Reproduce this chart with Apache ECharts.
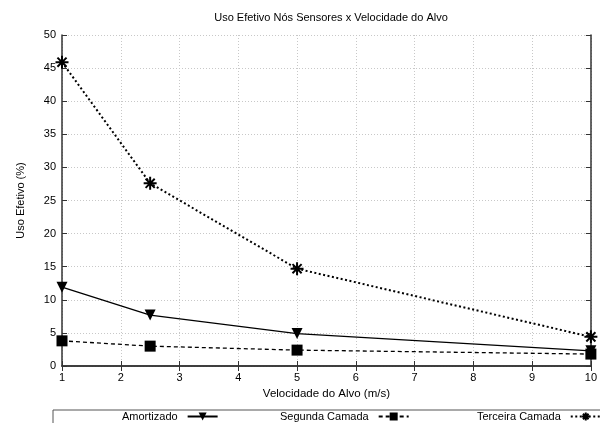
<!DOCTYPE html>
<html>
<head>
<meta charset="utf-8">
<script src="https://cdn.jsdelivr.net/npm/echarts@6/dist/echarts.min.js"></script>
<style>
  html, body { margin: 0; padding: 0; background: #fff; }
  #chart { width: 600px; height: 423px; }
</style>
</head>
<body>
<div id="chart"></div>
<script>
// Target speed (m/s) on the horizontal axis
const speeds = [1, 2.5, 5, 10];

// Effective sensor-node usage (%) per strategy
const amortizado = [11.9, 7.7, 4.9, 2.3];
const segundaCamada = [3.8, 3.0, 2.4, 1.8];
const terceiraCamada = [45.9, 27.6, 14.7, 4.4];

const seriesNames = ['Amortizado', 'Segunda Camada', 'Terceira Camada'];

const xTicks = { min: 1, max: 10, interval: 1 };
const yTicks = { min: 0, max: 50, interval: 5 };

const FONT = 'Liberation Sans, Arial, sans-serif';
const asterisk = 'path://M0,-10L0,10M-10,0L10,0M-7,-7L7,7M-7,7L7,-7';

const pairs = ys => speeds.map((x, i) => [x, ys[i]]);

const axisLine = { show: true, lineStyle: { color: '#333', width: 1.5 } };
const gridLine = { show: true, lineStyle: { color: '#c8c8c8', type: [1, 2], width: 1 } };

const chart = echarts.init(document.getElementById('chart'), null, { renderer: 'canvas' });

const legendBase = {
  orient: 'horizontal',
  top: 411,
  padding: 0,
  align: 'right',
  itemWidth: 30,
  itemHeight: 10,
  itemGap: 5,
  textStyle: { fontFamily: FONT, fontSize: 11, color: '#000', padding: [0, 5, 0, 0] },
  selectedMode: false
};

chart.setOption({
  animation: false,
  backgroundColor: '#fff',
  title: {
    text: 'Uso Efetivo Nós Sensores x Velocidade do Alvo',
    left: 326, top: 7, textAlign: 'center',
    textStyle: { fontFamily: FONT, fontSize: 11, fontWeight: 'normal', color: '#000' }
  },
  grid: { left: 62, right: 7, top: 35, bottom: 57, containLabel: false },
  legend: [
    Object.assign({}, legendBase, { left: 122, data: [seriesNames[0]] }),
    Object.assign({}, legendBase, { left: 280, data: [seriesNames[1]] }),
    Object.assign({}, legendBase, { left: 477, data: [seriesNames[2]] })
  ],
  graphic: [{
    type: 'rect',
    shape: { x: 53, y: 410, width: 600, height: 40 },
    style: { fill: 'none', stroke: '#555', lineWidth: 1 },
    z: -1
  }],
  xAxis: [{
    type: 'value', position: 'bottom',
    min: xTicks.min, max: xTicks.max, interval: xTicks.interval,
    name: 'Velocidade do Alvo (m/s)', nameLocation: 'middle', nameGap: 22,
    nameTextStyle: { fontFamily: FONT, fontSize: 11.5, color: '#000' },
    axisLine, axisTick: { inside: true, length: 5, lineStyle: { color: '#333' } },
    axisLabel: { fontFamily: FONT, fontSize: 11, color: '#000', margin: 6 },
    splitLine: gridLine
  }, {
    type: 'value', position: 'top',
    min: xTicks.min, max: xTicks.max, interval: xTicks.interval,
    axisLine, axisTick: { inside: true, length: 5, lineStyle: { color: '#333' } },
    axisLabel: { show: false }, splitLine: { show: false }
  }],
  yAxis: [{
    type: 'value', position: 'left',
    min: yTicks.min, max: yTicks.max, interval: yTicks.interval,
    name: 'Uso Efetivo (%)', nameLocation: 'middle', nameGap: 36, nameRotate: 90,
    nameTextStyle: { fontFamily: FONT, fontSize: 11, color: '#000' },
    axisLine, axisTick: { inside: true, length: 5, lineStyle: { color: '#333' } },
    axisLabel: { fontFamily: FONT, fontSize: 11, color: '#000', margin: 6 },
    splitLine: gridLine
  }, {
    type: 'value', position: 'right',
    min: yTicks.min, max: yTicks.max, interval: yTicks.interval,
    axisLine, axisTick: { inside: true, length: 5, lineStyle: { color: '#333' } },
    axisLabel: { show: false }, splitLine: { show: false }
  }],
  series: [{
    name: seriesNames[0], type: 'line', data: pairs(amortizado),
    symbol: 'triangle', symbolRotate: 180, symbolSize: 11,
    lineStyle: { color: '#000', width: 1.3, type: 'solid' },
    itemStyle: { color: '#000' }
  }, {
    name: seriesNames[1], type: 'line', data: pairs(segundaCamada),
    symbol: 'rect', symbolSize: 11,
    lineStyle: { color: '#000', width: 1.3, type: [4, 3] },
    itemStyle: { color: '#000' }
  }, {
    name: seriesNames[2], type: 'line', data: pairs(terceiraCamada),
    symbol: asterisk, symbolSize: 13,
    lineStyle: { color: '#000', width: 2, type: [2, 2.5] },
    itemStyle: { color: '#000', borderColor: '#000', borderWidth: 2 }
  }]
});
</script>
</body>
</html>
